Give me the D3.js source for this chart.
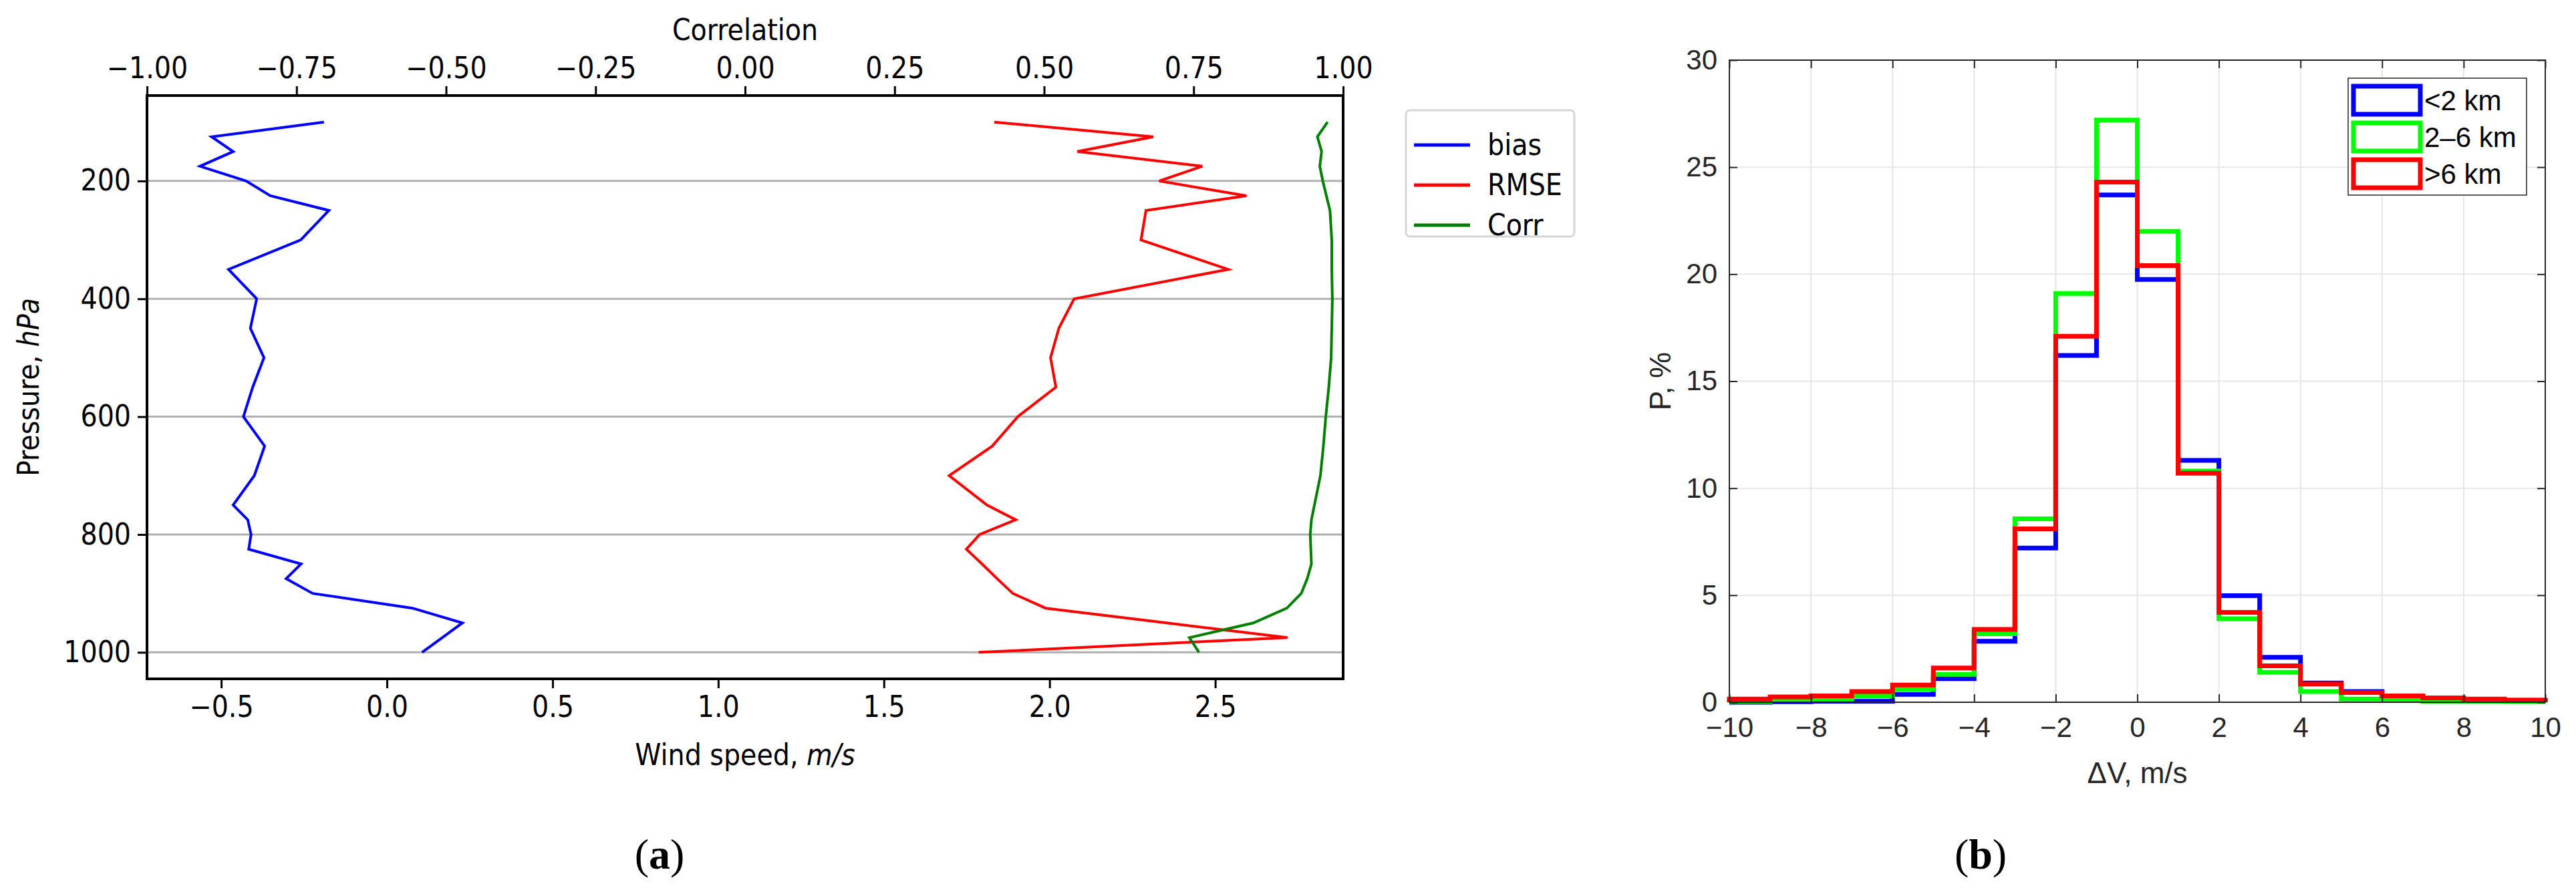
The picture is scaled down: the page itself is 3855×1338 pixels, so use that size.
<!DOCTYPE html>
<html>
<head>
<meta charset="utf-8">
<script src="https://cdn.jsdelivr.net/npm/d3@7"></script>
<style>
  body { margin: 0; background: #fff; }
  svg { display: block; }
</style>
</head>
<body>
<svg id="chart" width="3855" height="1338"></svg>
<script>
// ---- panel (a) data ----
const pressureLevels = [100, 125, 150, 175, 200, 225, 250, 300, 350, 400, 450, 500, 550, 600, 650, 700, 750, 775, 800, 825, 850, 875, 900, 925, 950, 975, 1000];
const biasValues = [-0.19, -0.529, -0.464, -0.564, -0.425, -0.352, -0.175, -0.26, -0.478, -0.393, -0.412, -0.371, -0.405, -0.433, -0.369, -0.40, -0.464, -0.42, -0.41, -0.417, -0.259, -0.304, -0.224, 0.077, 0.228, 0.167, 0.106];
const rmseValues = [1.833, 2.313, 2.084, 2.461, 2.331, 2.594, 2.291, 2.276, 2.539, 2.074, 2.028, 2.003, 2.019, 1.904, 1.827, 1.697, 1.811, 1.898, 1.789, 1.749, 1.796, 1.842, 1.889, 1.988, 2.353, 2.718, 1.786];
const corrValues = [0.974, 0.957, 0.964, 0.961, 0.966, 0.972, 0.978, 0.981, 0.981, 0.982, 0.981, 0.980, 0.976, 0.971, 0.967, 0.962, 0.952, 0.947, 0.945, 0.946, 0.947, 0.94, 0.93, 0.906, 0.85, 0.743, 0.759];
const windTicks = [-0.5, 0.0, 0.5, 1.0, 1.5, 2.0, 2.5];
const corrTicks = [-1.0, -0.75, -0.5, -0.25, 0.0, 0.25, 0.5, 0.75, 1.0];
const pressureTicks = [200, 400, 600, 800, 1000];
const seriesA = [
  { name: 'bias', color: '#0000ff', values: biasValues, axis: 'wind' },
  { name: 'RMSE', color: '#ff0000', values: rmseValues, axis: 'wind' },
  { name: 'Corr', color: '#008000', values: corrValues, axis: 'corr' },
];

// ---- panel (b) data ----
const binEdges = d3.range(-10, 11, 1);
const histBelow2 = [0, 0.02, 0.05, 0.05, 0.37, 1.1, 2.85, 7.2, 16.2, 23.7, 19.75, 11.3, 4.98, 2.1, 0.9, 0.5, 0.25, 0.15, 0.1, 0.05];
const hist2to6 = [0.05, 0.1, 0.15, 0.3, 0.6, 1.3, 3.2, 8.57, 19.1, 27.2, 22.0, 10.8, 3.9, 1.4, 0.5, 0.15, 0.1, 0.05, 0.05, 0.02];
const histAbove6 = [0.15, 0.25, 0.3, 0.5, 0.8, 1.6, 3.4, 8.1, 17.1, 24.3, 20.4, 10.7, 4.2, 1.7, 0.85, 0.45, 0.3, 0.2, 0.15, 0.1];
const xTicksB = d3.range(-10, 11, 2);
const yTicksB = d3.range(0, 31, 5);
const seriesB = [
  { name: '<2 km', color: '#0000ff', values: histBelow2 },
  { name: '2\u20136 km', color: '#00ff00', values: hist2to6 },
  { name: '>6 km', color: '#ff0000', values: histAbove6 },
];

const svg = d3.select('#chart');
const fmtMinus = s => s.replace('-', '\u2212');

// ================= panel (a) =================
const A = { left: 220, right: 2010, top: 143, bottom: 1016 };
const fontA = '"DejaVu Sans Condensed", "DejaVu Sans", sans-serif';
const xWind = d3.scaleLinear().domain([-0.724, 2.886]).range([A.left, A.right]);
const xCorr = d3.scaleLinear().domain([-1, 1]).range([A.left, A.right]);
const yP = d3.scaleLinear().domain([55, 1045]).range([A.top, A.bottom]);

const gA = svg.append('g');
// gridlines
gA.selectAll('line.grid').data(pressureTicks).enter().append('line')
  .attr('x1', A.left).attr('x2', A.right)
  .attr('y1', d => yP(d)).attr('y2', d => yP(d))
  .attr('stroke', '#b0b0b0').attr('stroke-width', 3);

const lineFor = s => d3.line()
  .x(d => (s.axis === 'corr' ? xCorr(d) : xWind(d)))
  .y((d, i) => yP(pressureLevels[i]));
gA.selectAll('path.series').data(seriesA).enter().append('path')
  .attr('d', s => lineFor(s)(s.values))
  .attr('fill', 'none').attr('stroke', s => s.color).attr('stroke-width', 4);

// frame
gA.append('rect').attr('x', A.left).attr('y', A.top)
  .attr('width', A.right - A.left).attr('height', A.bottom - A.top)
  .attr('fill', 'none').attr('stroke', '#000').attr('stroke-width', 4);

const styleAxisA = g => {
  g.select('.domain').remove();
  g.selectAll('.tick line').attr('stroke', '#000').attr('stroke-width', 3);
  g.selectAll('.tick text').attr('font-family', fontA).attr('font-size', 44).attr('fill', '#000');
};
gA.append('g').attr('transform', `translate(0,${A.bottom})`)
  .call(d3.axisBottom(xWind).tickValues(windTicks).tickSize(14).tickPadding(12)
    .tickFormat(d => fmtMinus(d3.format('.1f')(d))))
  .call(styleAxisA);
gA.append('g').attr('transform', `translate(0,${A.top})`)
  .call(d3.axisTop(xCorr).tickValues(corrTicks).tickSize(14).tickPadding(12)
    .tickFormat(d => fmtMinus(d3.format('.2f')(d))))
  .call(styleAxisA);
gA.append('g').attr('transform', `translate(${A.left},0)`)
  .call(d3.axisLeft(yP).tickValues(pressureTicks).tickSize(14).tickPadding(10).tickFormat(d3.format('d')))
  .call(styleAxisA);

// axis labels
gA.append('text').attr('x', (A.left + A.right) / 2).attr('y', 60)
  .attr('text-anchor', 'middle').attr('font-family', fontA).attr('font-size', 44)
  .text('Correlation');
const xl = gA.append('text').attr('x', (A.left + A.right) / 2).attr('y', 1145)
  .attr('text-anchor', 'middle').attr('font-family', fontA).attr('font-size', 44);
xl.append('tspan').text('Wind speed, ');
xl.append('tspan').attr('font-style', 'italic').text('m/s');
const yl = gA.append('text').attr('transform', `translate(58,${(A.top + A.bottom) / 2}) rotate(-90)`)
  .attr('text-anchor', 'middle').attr('font-family', fontA).attr('font-size', 44);
yl.append('tspan').text('Pressure, ');
yl.append('tspan').attr('font-style', 'italic').text('hPa');

// legend (a)
const legA = gA.append('g').attr('transform', 'translate(2104,165)');
legA.append('rect').attr('width', 252).attr('height', 189).attr('rx', 6)
  .attr('fill', '#fff').attr('stroke', '#d6d6d6').attr('stroke-width', 3);
legA.selectAll('g.item').data(seriesA).enter().append('g')
  .attr('transform', (d, i) => `translate(12,${52 + i * 60})`)
  .each(function (d) {
    const g = d3.select(this);
    g.append('line').attr('x1', 0).attr('x2', 84).attr('stroke', d.color).attr('stroke-width', 5);
    g.append('text').attr('x', 110).attr('y', 15).attr('font-family', fontA).attr('font-size', 44).text(d.name);
  });

svg.append('text').attr('x', 987).attr('y', 1300).attr('text-anchor', 'middle')
  .attr('font-family', '"Liberation Serif", serif').attr('font-size', 64)
  .html('(<tspan font-weight="bold">a</tspan>)');

// ================= panel (b) =================
const B = { left: 2588, right: 3809, top: 90, bottom: 1051 };
const fontB = '"Liberation Sans", Arial, sans-serif';
const xB = d3.scaleLinear().domain([-10, 10]).range([B.left, B.right]);
const yB = d3.scaleLinear().domain([0, 30]).range([B.bottom, B.top]);
const gB = svg.append('g');

gB.selectAll('line.gx').data(xTicksB).enter().append('line')
  .attr('x1', d => xB(d)).attr('x2', d => xB(d)).attr('y1', B.top).attr('y2', B.bottom)
  .attr('stroke', '#e6e6e6').attr('stroke-width', 2);
gB.selectAll('line.gy').data(yTicksB).enter().append('line')
  .attr('x1', B.left).attr('x2', B.right).attr('y1', d => yB(d)).attr('y2', d => yB(d))
  .attr('stroke', '#e6e6e6').attr('stroke-width', 2);

const stairs = vals => {
  const pts = [[binEdges[0], 0]];
  vals.forEach((v, i) => { pts.push([binEdges[i], v]); pts.push([binEdges[i + 1], v]); });
  pts.push([binEdges[binEdges.length - 1], 0]);
  return d3.line().x(p => xB(p[0])).y(p => yB(p[1]))(pts);
};
gB.selectAll('path.hist').data(seriesB).enter().append('path')
  .attr('d', s => stairs(s.values))
  .attr('fill', 'none').attr('stroke', s => s.color).attr('stroke-width', 7)
  .attr('stroke-linejoin', 'miter');

gB.append('rect').attr('x', B.left).attr('y', B.top)
  .attr('width', B.right - B.left).attr('height', B.bottom - B.top)
  .attr('fill', 'none').attr('stroke', '#262626').attr('stroke-width', 2);

const styleAxisB = g => {
  g.select('.domain').remove();
  g.selectAll('.tick line').attr('stroke', '#262626').attr('stroke-width', 2);
  g.selectAll('.tick text').attr('font-family', fontB).attr('font-size', 42).attr('fill', '#262626');
};
gB.append('g').attr('transform', `translate(0,${B.bottom})`)
  .call(d3.axisBottom(xB).tickValues(xTicksB).tickSize(-12).tickPadding(22)
    .tickFormat(d => fmtMinus(String(d))))
  .call(styleAxisB);
gB.append('g').attr('transform', `translate(0,${B.top})`)
  .call(d3.axisTop(xB).tickValues(xTicksB).tickSize(-12).tickFormat(''))
  .call(styleAxisB);
gB.append('g').attr('transform', `translate(${B.left},0)`)
  .call(d3.axisLeft(yB).tickValues(yTicksB).tickSize(-12).tickPadding(18))
  .call(styleAxisB);
gB.append('g').attr('transform', `translate(${B.right},0)`)
  .call(d3.axisRight(yB).tickValues(yTicksB).tickSize(-12).tickFormat(''))
  .call(styleAxisB);

gB.append('text').attr('x', (B.left + B.right) / 2).attr('y', 1172)
  .attr('text-anchor', 'middle').attr('font-family', fontB).attr('font-size', 44).attr('fill', '#262626')
  .text('\u0394V, m/s');
gB.append('text').attr('transform', `translate(2500,${(B.top + B.bottom) / 2}) rotate(-90)`)
  .attr('text-anchor', 'middle').attr('font-family', fontB).attr('font-size', 44).attr('fill', '#262626')
  .text('P, %');

const legB = gB.append('g').attr('transform', 'translate(3514,117)');
legB.append('rect').attr('width', 267).attr('height', 175)
  .attr('fill', '#fff').attr('stroke', '#262626').attr('stroke-width', 1.5);
legB.selectAll('g.item').data(seriesB).enter().append('g')
  .attr('transform', (d, i) => `translate(8,${12 + i * 55})`)
  .each(function (d) {
    const g = d3.select(this);
    g.append('rect').attr('width', 100).attr('height', 42)
      .attr('fill', 'none').attr('stroke', d.color).attr('stroke-width', 7);
    g.append('text').attr('x', 106).attr('y', 36).attr('font-family', fontB).attr('font-size', 42)
      .attr('fill', '#000').text(d.name);
  });

svg.append('text').attr('x', 2964).attr('y', 1300).attr('text-anchor', 'middle')
  .attr('font-family', '"Liberation Serif", serif').attr('font-size', 64)
  .html('(<tspan font-weight="bold">b</tspan>)');
</script>
</body>
</html>
